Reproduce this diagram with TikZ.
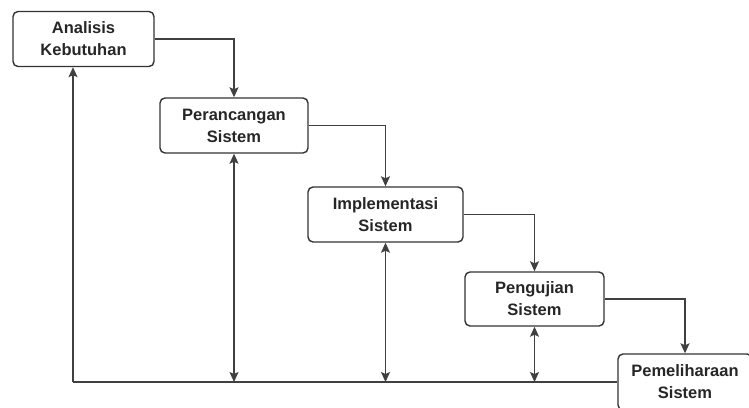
\documentclass[tikz,border=0pt]{standalone}
\usepackage{fontspec}
\setmainfont{Liberation Sans}
\usetikzlibrary{arrows.meta,positioning}

\begin{document}
\begin{tikzpicture}[x=1pt,y=-1pt,
  box/.style={draw=black!80, line width=1.4pt, rounded corners=5pt, align=center,
    font=\bfseries\fontsize{16.5}{22}\selectfont, text=black!85, inner sep=0pt},
  line/.style={draw=black!75, line width=1.3pt},
  >={Stealth[length=10pt,width=9pt,inset=2pt]}]
\useasboundingbox (0,0) rectangle (749,407);
\clip (0,0) rectangle (749,407);
\node[box, minimum width=141, minimum height=55] (analisis) at (83.5,39) {Analisis\\Kebutuhan};
\node[box, minimum width=148, minimum height=55] (perancangan) at (234,125.5) {Perancangan\\Sistem};
\node[box, minimum width=155, minimum height=55] (implementasi) at (385.5,214.5) {Implementasi\\Sistem};
\node[box, minimum width=139, minimum height=54] (pengujian) at (534.5,299) {Pengujian\\Sistem};
\node[box, minimum width=134, minimum height=56] (pemeliharaan) at (685,382) {Pemeliharaan\\Sistem};
\coordinate (corner) at (73,382);
% steps down
\draw [line,->] (analisis.east) -| (perancangan.north);
\draw [line,->] (perancangan.east) -| (implementasi.north);
\draw [line,->] (implementasi.east) -| (pengujian.north);
\draw [line,->] (pengujian.east) -| (pemeliharaan.north);
% feedback lines
\draw [line] (corner) -- (pemeliharaan.west);
\draw [line,->] (corner) -- (corner |- analisis.south);
\draw [line,<->] (perancangan.south) -- (perancangan.south |- corner);
\draw [line,<->] (implementasi.south) -- (implementasi.south |- corner);
\draw [line,<->] (pengujian.south) -- (pengujian.south |- corner);
\end{tikzpicture}
\end{document}
